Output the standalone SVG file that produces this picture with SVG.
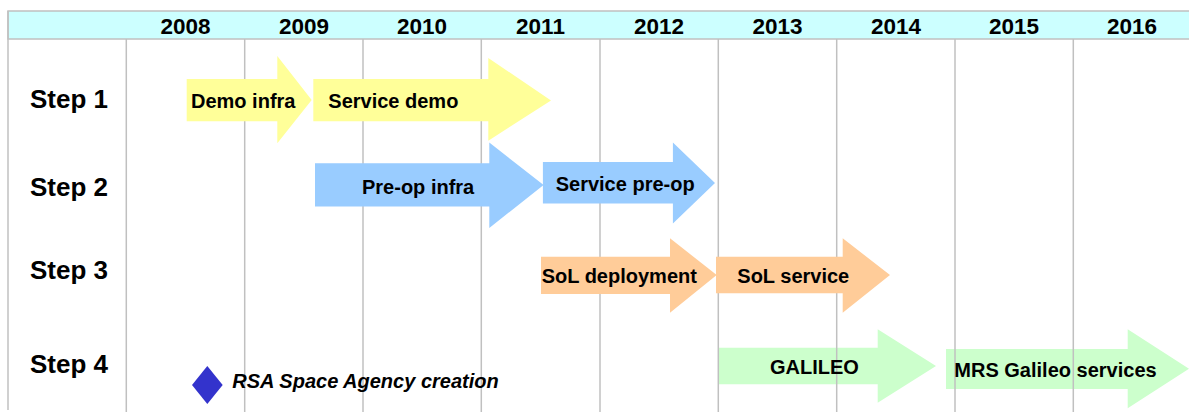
<svg xmlns="http://www.w3.org/2000/svg" width="1189" height="412" viewBox="0 0 1189 412">
<style>
text{font-family:"Liberation Sans",Arial,sans-serif;font-weight:bold;fill:#000}
.yr{font-size:22.5px;text-anchor:middle}
.st{font-size:26px}
.lb{font-size:20px}
.grid{stroke:#C0C0C0;stroke-width:1.5;fill:none}
.y{fill:#FFFF99}.b{fill:#99CCFF}.o{fill:#FFCC99}.g{fill:#CCFFCC}
</style>
<rect x="0" y="0" width="1189" height="412" fill="#fff"/>
<g id="header">
<rect x="8" y="11" width="1190" height="28" fill="#CCFFFF" stroke="#C0C0C0" stroke-width="1.5"/>
<text class="yr" x="185.5" y="34">2008</text>
<text class="yr" x="304" y="34">2009</text>
<text class="yr" x="422" y="34">2010</text>
<text class="yr" x="540.5" y="34">2011</text>
<text class="yr" x="659" y="34">2012</text>
<text class="yr" x="777.5" y="34">2013</text>
<text class="yr" x="896" y="34">2014</text>
<text class="yr" x="1014" y="34">2015</text>
<text class="yr" x="1132" y="34">2016</text>
</g>
<g id="galileo-shape">
<polygon class="g" points="718.3,347.7 877.7,347.7 877.7,329.3 936,366 877.7,402.7 877.7,384.3 718.3,384.3"/>
</g>
<g id="mrs-galileo-shape">
<polygon class="g" points="946,349 1127.7,349 1127.7,329.3 1189,368.8 1127.7,408.3 1127.7,389 946,389"/>
</g>
<g id="grid">
<line class="grid" x1="8" y1="11" x2="8" y2="410"/>
<line class="grid" x1="126.3" y1="39" x2="126.3" y2="412"/>
<line class="grid" x1="244.7" y1="39" x2="244.7" y2="412"/>
<line class="grid" x1="363" y1="39" x2="363" y2="412"/>
<line class="grid" x1="481.3" y1="39" x2="481.3" y2="412"/>
<line class="grid" x1="600" y1="39" x2="600" y2="412"/>
<line class="grid" x1="718.3" y1="39" x2="718.3" y2="412"/>
<line class="grid" x1="836.7" y1="39" x2="836.7" y2="412"/>
<line class="grid" x1="955" y1="39" x2="955" y2="412"/>
<line class="grid" x1="1073.3" y1="39" x2="1073.3" y2="412"/>
</g>
<g id="galileo">
<text class="lb" x="770" y="374">GALILEO</text>
</g>
<g id="mrs-galileo">
<text class="lb" x="954.3" y="376.7">MRS Galileo services</text>
</g>
<g id="steps">
<text class="st" x="30" y="107.5">Step 1</text>
<text class="st" x="30" y="196">Step 2</text>
<text class="st" x="30" y="278.5">Step 3</text>
<text class="st" x="30" y="372.5">Step 4</text>
</g>
<g id="demo-infra">
<polygon class="y" points="186.7,79 277.3,79 277.3,56 311.7,100 277.3,143.3 277.3,121.3 186.7,121.3"/>
<text class="lb" x="191" y="108.3">Demo infra</text>
</g>
<g id="service-demo">
<polygon class="y" points="313.3,79 488.3,79 488.3,58 551,100.5 488.3,140.7 488.3,121.3 313.3,121.3"/>
<text class="lb" x="328.3" y="108.3">Service demo</text>
</g>
<g id="preop-infra">
<polygon class="b" points="315,163.2 489.3,163.2 489.3,142.5 543.6,185 489.3,227.9 489.3,206.4 315,206.4"/>
<text class="lb" x="362" y="193.6">Pre-op infra</text>
</g>
<g id="service-preop">
<polygon class="b" points="542.9,162.1 672.9,162.1 672.9,142.5 715,183 672.9,223.6 672.9,203.6 542.9,203.6"/>
<text class="lb" x="555.7" y="190.7">Service pre-op</text>
</g>
<g id="sol-deployment">
<polygon class="o" points="541,256.7 670,256.7 670,238.3 716.7,275 670,312.7 670,294 541,294"/>
<text class="lb" x="541.7" y="283.3">SoL deployment</text>
</g>
<g id="sol-service">
<polygon class="o" points="716,256.7 842.7,256.7 842.7,238.3 890,275 842.7,312.7 842.7,293.3 716,293.3"/>
<text class="lb" x="737.3" y="283.3">SoL service</text>
</g>
<g id="rsa-creation">
<polygon points="207.3,366 222.7,385 207.3,404 192,385" fill="#3333CC"/>
<text class="lb" x="232.3" y="388" font-style="italic">RSA Space Agency creation</text>
</g>
<g id="connectors"/>
</svg>
